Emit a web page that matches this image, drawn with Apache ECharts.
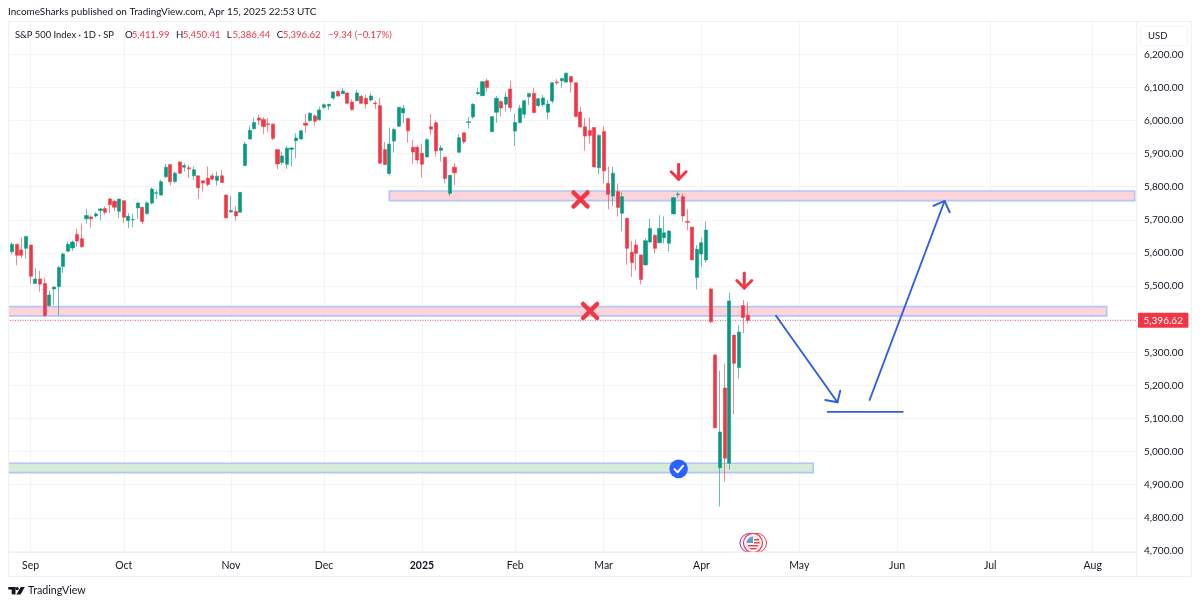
<!DOCTYPE html>
<html><head><meta charset="utf-8">
<style>html,body{margin:0;padding:0;background:#fff}#c{width:1200px;height:606px}</style>
<script src="https://cdn.jsdelivr.net/npm/echarts@6/dist/echarts.min.js"></script>
</head><body><div id="c"></div>
<script>
const opens=[5636,5604,5626,5609,5614,5624,5508,5521,5508,5441,5491,5498,5559,5605,5615,5656,5643,5703,5709,5712,5728,5734,5763,5756,5726,5758,5698,5700,5736,5738,5719,5751,5780,5775,5830,5867,5816,5875,5859,5857,5833,5833,5818,5826,5833,5819,5833,5775,5724,5725,5723,
5864,5944,5975,6008,6003,5990,5989,5912,5873,5868,5913,5939,5944,5992,6000,6014,6002,6040,6044,6068,6088,6081,6083,6056,6060,6073,6067,6062,6053,6045,5912,5840,5938,5983,6023,6006,5919,5919,5901,5890,5981,5993,5910,5889,5780,5859,5904,5963,
5994,6011,6081,6075,6120,5966,6025,6057,6049,6095,5968,5994,6019,6072,6082,6045,6048,6025,6059,6116,6120,6116,6133,6114,6026,5981,5970,5979,5857,5967,5810,5772,5785,5720,5705,5602,5624,5594,5564,5633,5653,5631,5646,5629,5718,5776,5770,5695,5678,5526,5597,5579,
5491,5292,4951,5192,4965,5352,5254,5441,5411.99];
const closes=[5616,5626,5593,5593,5650,5530,5521,5506,5411,5473,5497,5556,5597,5626,5633,5636,5619,5713,5703,5718,5733,5723,5746,5738,5763,5708,5711,5701,5751,5695,5751,5793,5782,5815,5859,5815,5841,5841,5864,5854,5851,5797,5811,5807,5823,5832,5813,5706,5728,5712,5783,
5929,5971,5994,6001,5982,5988,5946,5869,5893,5916,5917,5947,5969,5986,6022,5998,6032,6048,6049,6086,6074,6089,6052,6033,6083,6052,6050,6074,6051,5871,5867,5929,5973,6040,6037,5969,5905,5881,5868,5942,5974,5908,5917,5825,5835,5842,5948,5936,
5996,6049,6085,6117,6100,6012,6067,6038,6071,6039,5994,6037,6060,6082,6024,6066,6068,6050,6114,6114,6127,6143,6116,6012,5981,5953,5955,5860,5955,5848,5777,5841,5737,5770,5614,5571,5599,5520,5637,5674,5614,5674,5661,5666,5767,5778,5712,5693,5579,5611,5631,5669,
5392,5072,5059,4980,5455,5267,5361,5405,5396.62];
const lows=[5606,5596,5563,5584,5583,5506,5508,5483,5406,5439,5443,5411,5539,5605,5606,5618,5616,5689,5676,5706,5699,5716,5721,5726,5705,5691,5675,5678,5703,5687,5716,5746,5763,5773,5826,5804,5811,5839,5846,5826,5821,5763,5786,5801,5819,5803,5811,5706,5721,5698,5723,
5864,5944,5973,5986,5959,5966,5941,5853,5866,5854,5861,5886,5943,5963,5995,5985,6000,6034,6032,6062,6072,6080,6049,6030,6058,6049,6036,6057,6035,5869,5865,5834,5903,5981,5992,5933,5869,5870,5828,5888,5956,5891,5876,5810,5772,5805,5903,5930,
5976,6005,6077,6074,6087,5966,5993,6012,6027,6027,5923,5991,6006,6047,6021,6042,6041,6003,6052,6107,6099,6114,6084,6010,5976,5909,5931,5858,5837,5810,5732,5742,5710,5666,5564,5528,5547,5505,5562,5631,5599,5629,5629,5604,5717,5767,5695,5669,5579,5490,5559,5571,
5389,5072,4834,4909,4946,5113,5220,5357,5386.44];
const highs=[5639,5632,5628,5647,5650,5624,5554,5546,5523,5486,5498,5561,5601,5636,5638,5673,5689,5733,5713,5723,5736,5741,5766,5761,5763,5758,5721,5719,5753,5738,5756,5798,5791,5821,5869,5867,5846,5876,5871,5866,5861,5833,5818,5861,5841,5846,5851,5775,5773,5741,5783,
5936,5983,6009,6017,6010,6007,5991,5914,5906,5923,5919,5961,5971,6020,6025,6019,6042,6052,6050,6088,6092,6098,6086,6064,6092,6077,6078,6082,6060,6068,5935,5979,5979,6040,6047,6006,5941,5926,5929,5946,6020,6000,5926,5889,5835,5871,5959,5963,
6011,6052,6099,6119,6127,6012,6074,6062,6085,6120,6021,6047,6062,6082,6099,6069,6077,6062,6115,6125,6130,6145,6133,6114,6041,6008,6009,5979,5959,5983,5860,5860,5810,5783,5705,5636,5641,5594,5644,5703,5657,5714,5710,5669,5770,5785,5780,5732,5678,5624,5647,5695,
5496,5292,5244,5266,5480,5352,5382,5458,5450.41];

const barCount=243;
const monthIndex=[5,25,48,68,89,109,128,149,170,191,211,233];
const monthLabels=['Sep','Oct','Nov','Dec','2025','Feb','Mar','Apr','May','Jun','Jul','Aug'];
const categories=Array.from({length:barCount},(_,i)=>'d'+i);
const lastPrice=5396.62;

// [startIndex,endIndex,topPrice,bottomPrice]
const pinkBands=[[82,242,5787,5758],[0,236.3,5438,5410]];
const greenBands=[[0,173,4965,4936.5]];
// blue hand-drawn strokes, each a polyline in [barIndex,price]
const bluePaths=[
 [[165.0,5410.5],[178.2,5149]],
 [[178.8,5184],[178.2,5149],[175.6,5156]],
 [[176.1,5120],[192.2,5120]],
 [[185.1,5156],[201.2,5757]],
 [[198.8,5742],[201.2,5757],[202.3,5723]]
];
const crossMarks=[[123.05,5761.5],[125.1,5424.7]];
const downArrows=[[144.1,5822.5],[158.2,5494]];
const checkMarks=[[144.1,4948]];

const UP='#089981',DOWN='#f23645',FONT='Lato,sans-serif',INK='#131722',GRID='#f3f4f7',FRAME='#eef0f4',BLUE='#2f5fe0';
const candles=opens.map((o,i)=>[o,closes[i],lows[i],highs[i]]);
const fmt=v=>v.toLocaleString('en-US',{minimumFractionDigits:2,maximumFractionDigits:2});

function bandItem(b,fill){
 return [{xAxis:Math.round(b[0]),yAxis:b[2],itemStyle:{color:fill,borderColor:'#b3c5f7',borderWidth:1.6,opacity:1}},{xAxis:Math.round(b[1]),yAxis:b[3]}];
}
function pt(api,p){
 const f=Math.floor(p[0]);
 const a=api.coord([f,p[1]]),b=api.coord([f+1,p[1]]);
 return [a[0]+(p[0]-f)*(b[0]-a[0]),a[1]];
}
const annotations=[];
bluePaths.forEach(p=>annotations.push({kind:'path',p}));
crossMarks.forEach(p=>annotations.push({kind:'cross',p}));
downArrows.forEach(p=>annotations.push({kind:'down',p}));
checkMarks.forEach(p=>annotations.push({kind:'check',p}));
function line(points,color,w){return {type:'polyline',shape:{points},style:{stroke:color,lineWidth:w,fill:null,lineCap:'round',lineJoin:'round'}};}
function renderAnn(params,api){
 const a=annotations[params.dataIndex];
 if(a.kind==='path') return line(a.p.map(q=>pt(api,q)),BLUE,1.9);
 const c=pt(api,a.p),x=c[0],y=c[1];
 if(a.kind==='cross') return {type:'group',children:[
   line([[x-7,y-7],[x+7,y+7]],DOWN,4.5),line([[x+7,y-7],[x-7,y+7]],DOWN,4.5)]};
 if(a.kind==='down') return {type:'group',children:[
   line([[x,y-15],[x,y]],DOWN,3),line([[x-7.5,y-7.5],[x,y],[x+7.5,y-7.5]],DOWN,3)]};
 return {type:'group',children:[
   {type:'circle',shape:{cx:x,cy:y,r:9.3},style:{fill:'#2962ff'}},
   line([[x-4.2,y+0.3],[x-1,y+3.4],[x+4.4,y-3]],'#fff',2)]};
}
const t=(x,y,text,fill,size,extra)=>({type:'text',z:101,x,y,style:Object.assign({text,fill:fill||INK,font:(size||10)+'px '+FONT,textVerticalAlign:'middle'},extra||{})});
const vline=(x,y1,y2)=>({type:'line',z:100,shape:{x1:x,y1,x2:x,y2},style:{stroke:FRAME,lineWidth:1}});
const hline=(y,x1,x2)=>({type:'line',z:100,shape:{x1,y1:y,x2,y2:y},style:{stroke:FRAME,lineWidth:1}});

const chart=echarts.init(document.getElementById('c'),null,{renderer:'canvas'});
chart.setOption({
 animation:false,backgroundColor:'#fff',
 grid:{left:5,right:63,top:21.2,height:529.75,containLabel:false},
 xAxis:{type:'category',data:categories,boundaryGap:true,
  axisLine:{show:false},
  axisTick:{show:false,alignWithLabel:true,interval:i=>monthIndex.includes(i)},
  splitLine:{show:true,alignWithLabel:true,interval:i=>monthIndex.includes(i),lineStyle:{color:GRID,width:1}},
  axisLabel:{show:true,interval:i=>monthIndex.includes(i),margin:9,color:INK,fontFamily:FONT,fontSize:10.5,hideOverlap:false,
   formatter:(v,i)=>{const k=monthIndex.indexOf(i);if(k<0)return '';const s=monthLabels[k];return /^\d/.test(s)?'{b|'+s+'}':s;},
   rich:{b:{fontWeight:'bold',fontFamily:FONT,fontSize:10.5,color:INK}}}},
 yAxis:{type:'value',position:'right',min:4700,max:6300,interval:100,scale:true,
  axisLine:{show:false},axisTick:{show:false},
  splitLine:{show:true,lineStyle:{color:GRID,width:1}},
  axisLabel:{margin:7,color:INK,fontFamily:FONT,fontSize:10,align:'left',formatter:v=>v>=6300?'':fmt(v)}},
 series:[
  {type:'candlestick',data:candles,barWidth:3.6,z:3,
   itemStyle:{color:UP,color0:DOWN,borderColor:'rgba(8,153,129,0.6)',borderColor0:'rgba(242,54,69,0.6)',borderWidth:1},
   markArea:{silent:true,z:1,data:pinkBands.map(b=>bandItem(b,'#fcd4da')).concat(greenBands.map(b=>bandItem(b,'#d6ecd8')))},
   markLine:{silent:true,symbol:'none',z:2,precision:2,
    lineStyle:{color:'rgba(242,54,69,0.75)',type:[1,1.5],width:1},
    label:{show:true,position:'end',distance:1,formatter:()=>fmt(lastPrice),color:'#fff',backgroundColor:DOWN,borderRadius:1,padding:[2.5,5.5],fontFamily:FONT,fontSize:10},
    data:[{yAxis:lastPrice}]}},
  {type:'custom',renderItem:renderAnn,clip:false,z:5,silent:true,
   data:annotations.map((a,i)=>[i,5000]),encode:{x:0,y:1}}
 ],
 graphic:{elements:[
  {type:'rect',z:99,shape:{x:0,y:15,width:8,height:565},style:{fill:'#fff'}},
  vline(8.5,21,576),vline(1136.5,21,576),vline(1191.5,21,576),
  hline(21.5,8,1191),hline(552.5,8,1136),hline(576.5,8,1191),
  t(8,12,'IncomeSharks published on TradingView.com, Apr 15, 2025 22:53 UTC',INK,9.95),
  t(15,34.5,'S&P 500 Index · 1D · SP',INK,9.4),
  t(125,34.5,'O',INK,9.6),t(131.7,34.5,'5,411.99',DOWN,9.6),
  t(176,34.5,'H',INK,9.6),t(182.7,34.5,'5,450.41',DOWN,9.6),
  t(226.7,34.5,'L',INK,9.6),t(232.5,34.5,'5,386.44',DOWN,9.6),
  t(276.7,34.5,'C',INK,9.6),t(282.7,34.5,'5,396.62',DOWN,9.6),
  t(328,34.5,'−9.34 (−0.17%)',DOWN,9.5),
  {type:'rect',z:100,shape:{x:1141,y:26,width:46,height:20,r:3},style:{fill:'#fff',stroke:'#f2f3f6'}},
  t(1148,36,'USD',INK,9.5),
  // economic-event icons
  {type:'group',z:100,clipPath:{type:'rect',shape:{x:735,y:530,width:40,height:21.7}},children:[
   {type:'circle',z:100,shape:{cx:749.5,cy:543,r:9.5},style:{fill:'#fff',stroke:'#9c27b0',lineWidth:1}},
   {type:'circle',z:100,shape:{cx:757,cy:543,r:9.5},style:{fill:'#fff',stroke:'#f23645',lineWidth:1}},
   {type:'circle',z:101,shape:{cx:753,cy:543,r:9.5},style:{fill:'#fff',stroke:'#f23645',lineWidth:1.2}},
   {type:'circle',z:102,shape:{cx:753,cy:543,r:6.5},style:{fill:'#fff',stroke:'#f5a3aa',lineWidth:0.6}},
   {type:'sector',z:103,shape:{cx:753,cy:543,r:6.3,r0:0,startAngle:Math.PI,endAngle:Math.PI*1.5},style:{fill:'#5b9be6'}},
   {type:'rect',z:103,shape:{x:754,y:539,width:5,height:1.4},style:{fill:'#f23645'}},
   {type:'rect',z:103,shape:{x:754,y:542,width:5.5,height:1.4},style:{fill:'#f23645'}},
   {type:'rect',z:103,shape:{x:748,y:545,width:10,height:1.4},style:{fill:'#f23645'}},
   {type:'rect',z:103,shape:{x:750,y:548,width:6.5,height:1.2},style:{fill:'#f23645'}}
  ]},
  // TradingView wordmark
  {type:'rect',z:100,shape:{x:8.3,y:587,width:7.2,height:2.6},style:{fill:INK}},
  {type:'rect',z:100,shape:{x:11.7,y:587,width:3.8,height:7.4},style:{fill:INK}},
  {type:'circle',z:100,shape:{cx:17.2,cy:588.6,r:1.6},style:{fill:INK}},
  {type:'polygon',z:100,shape:{points:[[20.8,587],[24.8,587],[20.6,594.4],[16.4,594.4]]},style:{fill:INK}},
  t(28,591,'TradingView',INK,10.7)
 ]}
});
</script></body></html>
